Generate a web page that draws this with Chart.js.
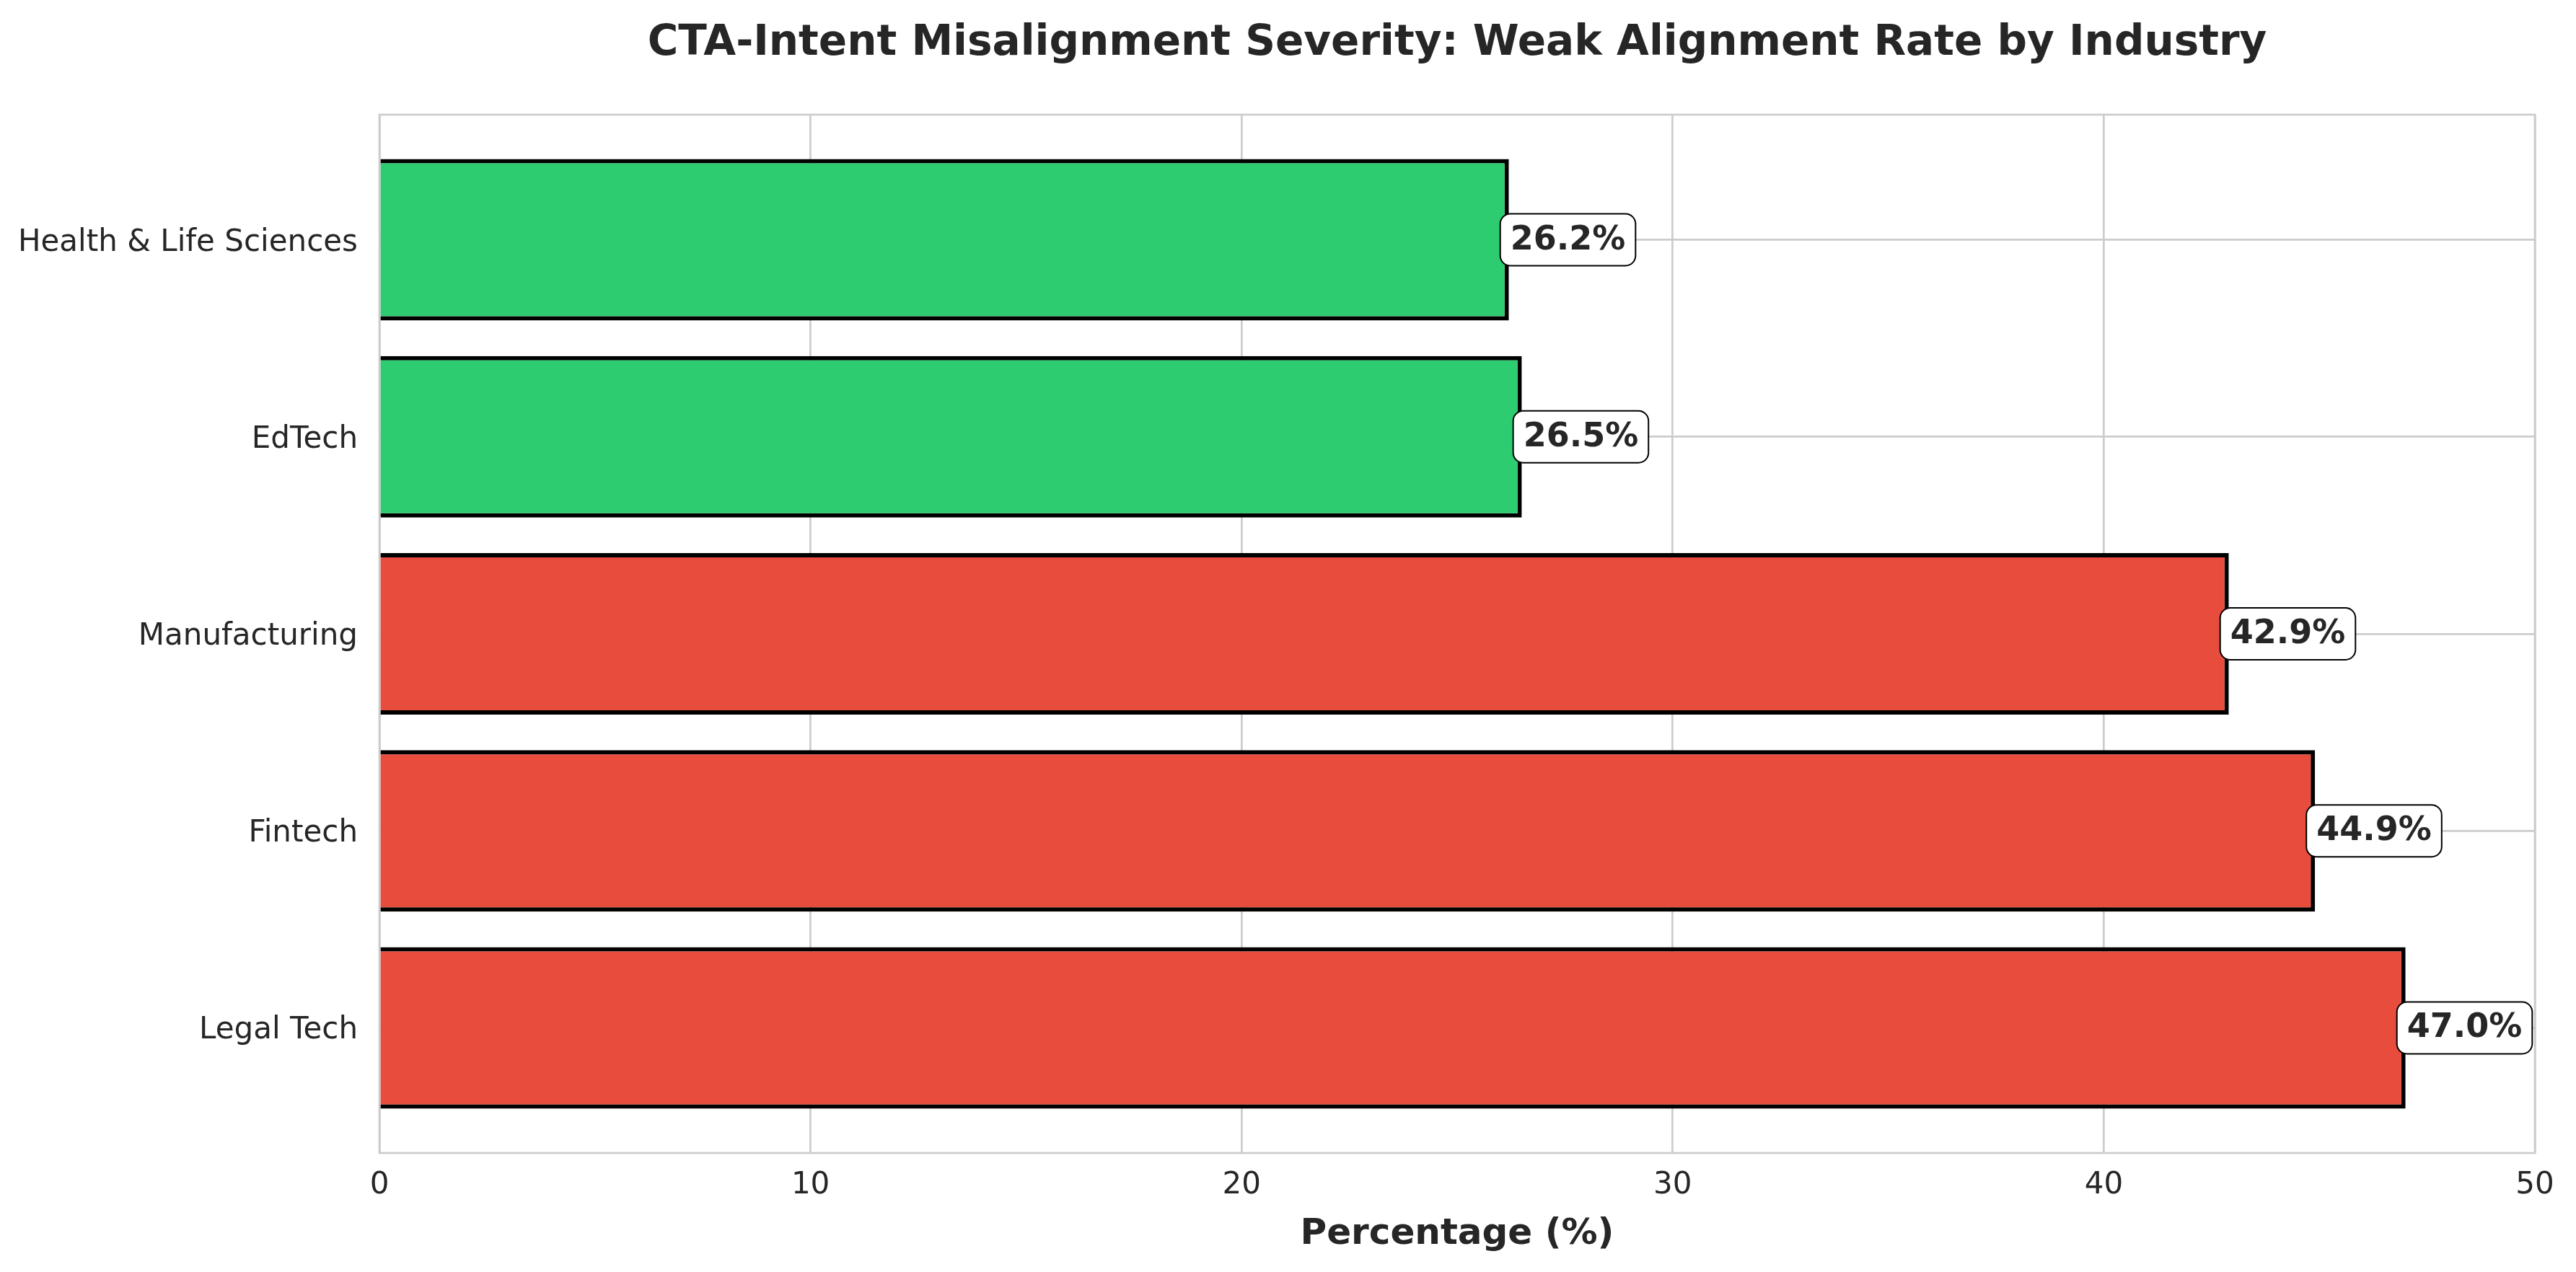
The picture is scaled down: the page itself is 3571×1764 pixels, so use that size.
<!DOCTYPE html>
<html>
<head>
<meta charset="utf-8">
<script src="https://cdn.jsdelivr.net/npm/chart.js@4.4.1/dist/chart.umd.min.js"></script>
<style>
  html, body { margin: 0; padding: 0; background: #fff; }
</style>
</head>
<body>
<canvas id="misalignChart" width="3571" height="1764"></canvas>
<script>
// data (bottom to top)
const industries = ['Legal Tech', 'Fintech', 'Manufacturing', 'EdTech', 'Health & Life Sciences'];
const weakRates = [47.0, 44.9, 42.9, 26.5, 26.2];
const barColors = ['#e74c3c', '#e74c3c', '#e74c3c', '#2ecc71', '#2ecc71'];
const xTickStep = 10;
const xMin = 0;
const xMax = 50;
const chartTitle = 'CTA-Intent Misalignment Severity: Weak Alignment Rate by Industry';
const xTitle = 'Percentage (%)';

const textColor = '#262626';
const gridColor = '#cccccc';

// frame, category labels, value boxes and titles
const overlayPlugin = {
  id: 'overlay',
  afterDatasetsDraw(chart) {
    const ctx = chart.ctx;
    const area = chart.chartArea;
    const xs = chart.scales.x;
    const ys = chart.scales.y;
    const midX = (area.left + area.right) / 2;
    ctx.save();

    ctx.strokeStyle = gridColor;
    ctx.lineWidth = 2.7;
    ctx.strokeRect(area.left, area.top, area.right - area.left, area.bottom - area.top);

    // category names on the left
    ctx.font = '42px "DejaVu Sans"';
    ctx.textBaseline = 'alphabetic';
    ctx.textAlign = 'right';
    ctx.fillStyle = textColor;
    industries.forEach((name, i) => {
      ctx.fillText(name, area.left - 30, ys.getPixelForValue(i) + 15);
    });

    // value boxes
    ctx.font = 'bold 46px "DejaVu Sans"';
    ctx.textAlign = 'left';
    const meta = chart.getDatasetMeta(0);
    meta.data.forEach((bar, i) => {
      const label = weakRates[i].toFixed(1) + '%';
      const x = xs.getPixelForValue(weakRates[i]);
      const w = ctx.measureText(label).width;
      const pad = 14;
      const h = 72;
      const left = x - 12;
      ctx.beginPath();
      ctx.roundRect(left, bar.y - h / 2, w + 2 * pad, h, 14);
      ctx.fillStyle = '#ffffff';
      ctx.fill();
      ctx.lineWidth = 2;
      ctx.strokeStyle = '#000000';
      ctx.stroke();
      ctx.fillStyle = textColor;
      ctx.fillText(label, left + pad, bar.y + 13);
    });

    ctx.textAlign = 'center';
    ctx.fillStyle = textColor;
    ctx.font = 'bold 58px "DejaVu Sans"';
    ctx.fillText(chartTitle, midX, 76);
    ctx.font = 'bold 50px "DejaVu Sans"';
    ctx.fillText(xTitle, midX, 1725);
    ctx.restore();
  }
};

const ctx = document.getElementById('misalignChart').getContext('2d');
new Chart(ctx, {
  type: 'bar',
  data: {
    datasets: [{
      data: weakRates.map((v, i) => ({ x: v, y: i })),
      backgroundColor: barColors,
      borderColor: '#000000',
      borderWidth: 6,
      borderSkipped: 'start',
      barPercentage: 0.82,
      categoryPercentage: 1
    }]
  },
  options: {
    indexAxis: 'y',
    responsive: false,
    animation: false,
    devicePixelRatio: 1,
    layout: { padding: { left: 0, right: 57, top: 159, bottom: 0 } },
    plugins: {
      legend: { display: false },
      tooltip: { enabled: false },
      title: { display: false }
    },
    scales: {
      x: {
        type: 'linear',
        min: xMin,
        max: xMax,
        afterFit: (s) => { s.height = 165; },
        grid: { color: gridColor, lineWidth: 2.7, drawTicks: false },
        border: { display: false },
        ticks: {
          stepSize: xTickStep,
          padding: 20,
          color: textColor,
          font: { family: 'DejaVu Sans', size: 42 }
        }
      },
      y: {
        type: 'linear',
        offset: false,
        min: -0.635,
        max: industries.length - 1 + 0.635,
        afterBuildTicks: (s) => { s.ticks = industries.map((c, i) => ({ value: i })); },
        afterFit: (s) => { s.width = 526; },
        grid: { offset: false, color: gridColor, lineWidth: 2.7, drawTicks: false },
        border: { display: false },
        ticks: { display: false }
      }
    }
  },
  plugins: [overlayPlugin]
});
</script>
</body>
</html>
